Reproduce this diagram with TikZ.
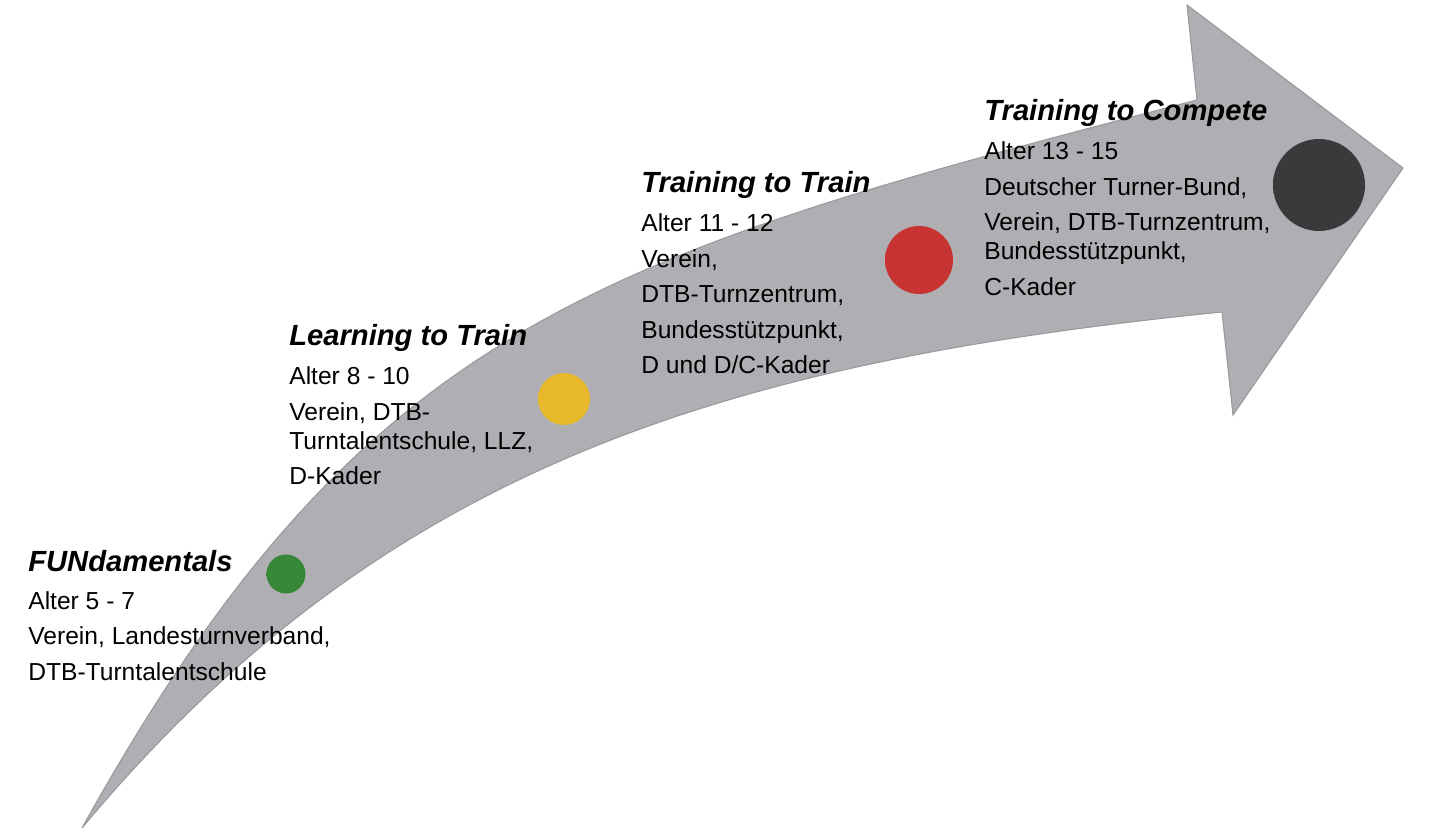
\documentclass[tikz,border=0pt]{standalone}
\usepackage{fontspec}
\setmainfont{Liberation Sans}
\usepackage{xcolor}
\usepackage{tikz}

\definecolor{arrowgray}{RGB}{175,174,179}
\definecolor{arrowedge}{RGB}{152,152,157}
\definecolor{dotgreen}{RGB}{54,136,56}
\definecolor{dotyellow}{RGB}{232,184,44}
\definecolor{dotred}{RGB}{200,52,52}
\definecolor{dotblack}{RGB}{58,58,60}
\colorlet{btnin}{dotgreen}
\colorlet{btnrim}{dotgreen}
\pgfdeclareradialshading[btnin,btnrim]{button}{\pgfpoint{0bp}{0bp}}{%
  color(0bp)=(btnin); color(34bp)=(btnin); color(45bp)=(btnrim); color(50bp)=(btnin!60!black)}
\newcommand{\stagetitle}[1]{{\fontsize{16.6}{20}\selectfont\bfseries\itshape #1}}

\begin{document}
\begin{tikzpicture}[
  stage/.style={align=left,anchor=north west,inner sep=0pt,font=\fontsize{14}{16.5}\selectfont},
  btn/.style 2 args={circle,inner sep=0pt,minimum size=#1,shade,shading=button,
    /utils/exec={\colorlet{btnin}{#2}\colorlet{btnrim}{#2!55!white}}}]
  \useasboundingbox (0,0) rectangle (28.6,16.66);
  % curved arrow, tail bottom left
  \filldraw[fill=arrowgray,draw=arrowedge,line width=0.6pt,line join=miter]
    (1.64,0.10) .. controls (7.24,10.18) and (11.94,11.54) .. (23.94,14.66)
    -- (23.74,16.56) -- (28.06,13.30) -- (24.66,8.36) -- (24.44,10.42)
    .. controls (14.44,9.42) and (7.64,7.30) .. (1.64,0.10) -- cycle;
  % stage dots
  \node[btn={0.78cm}{dotgreen}]  (dotF) at (5.72,5.18)   {};
  \node[btn={1.04cm}{dotyellow}] (dotL) at (11.28,8.68)  {};
  \node[btn={1.36cm}{dotred}]    (dotT) at (18.38,11.46) {};
  \node[btn={1.84cm}{dotblack}]  (dotC) at (26.38,12.96) {};
  % stage texts
  \node[stage] (fund) at (0.56,5.65)
    {\stagetitle{FUNdamentals}\\[4.8pt]
     Alter 5 - 7\\[3.7pt]
     Verein, Landesturnverband,\\[3.7pt]
     DTB-Turntalentschule};
  \node[stage] (learn) at (5.78,10.17)
    {\stagetitle{Learning to Train}\\[5.5pt]
     Alter 8 - 10\\[3.7pt]
     Verein, DTB-\\
     Turntalentschule, LLZ,\\[3.7pt]
     D-Kader};
  \node[stage] (train) at (12.82,13.23)
    {\stagetitle{Training to Train}\\[5.5pt]
     Alter 11 - 12\\[3.7pt]
     Verein,\\[3.7pt]
     DTB-Turnzentrum,\\[3.7pt]
     Bundesstützpunkt,\\[3.7pt]
     D und D/C-Kader};
  \node[stage] (compete) at (19.68,14.67)
    {\stagetitle{Training to Compete}\\[5.5pt]
     Alter 13 - 15\\[3.7pt]
     Deutscher Turner-Bund,\\[3.7pt]
     Verein, DTB-Turnzentrum,\\
     Bundesstützpunkt,\\[3.7pt]
     C-Kader};
\end{tikzpicture}
\end{document}
